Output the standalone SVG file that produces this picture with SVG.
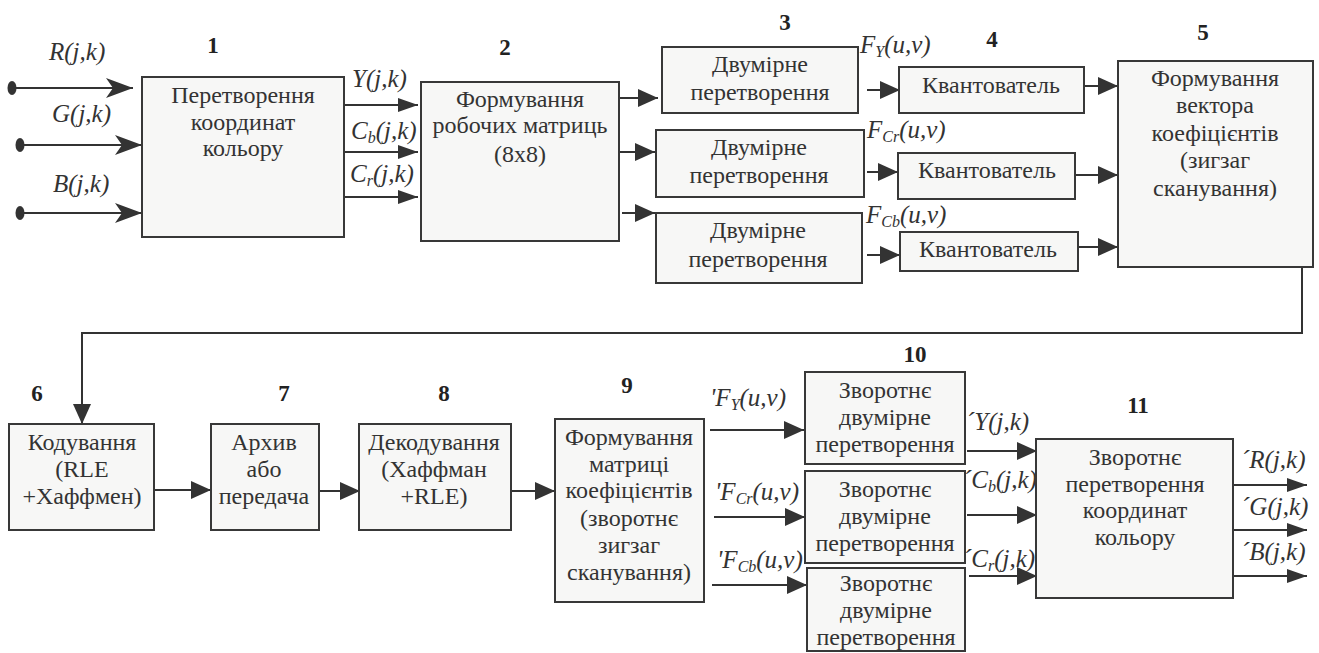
<svg xmlns="http://www.w3.org/2000/svg" width="1319" height="653" viewBox="0 0 1319 653">
<style>
.b{fill:#f7f7f6;stroke:#383838;stroke-width:2}
.t{font-size:24px;fill:#333;text-anchor:middle}
.n{font-size:23px;font-weight:bold;fill:#222;text-anchor:middle}
.l{font-size:25px;font-style:italic;fill:#333}
.s{font-size:16px}
.c{fill:none;stroke:#333;stroke-width:2}
</style>
<defs>
<marker id="a" viewBox="0 0 20 18" refX="20" refY="9" markerWidth="20" markerHeight="18" markerUnits="userSpaceOnUse" orient="auto"><path d="M0,0 L20,9 L0,18 z" fill="#333"/></marker>
<marker id="sa" viewBox="0 0 20 14" refX="20" refY="7" markerWidth="20" markerHeight="14" markerUnits="userSpaceOnUse" orient="auto"><path d="M0,0 L20,7 L0,14 z" fill="#333"/></marker>
<marker id="st" viewBox="0 0 27 20" refX="27" refY="10" markerWidth="27" markerHeight="20" markerUnits="userSpaceOnUse" orient="auto"><path d="M0,0 L27,10 L0,20 L7,10 z" fill="#333"/></marker>
</defs>
<g font-family="Liberation Serif, Tinos, Times New Roman, Times, Noto Serif, DejaVu Serif, FreeSerif, serif">
<g id="connectors">
<ellipse cx="12" cy="88" rx="4.5" ry="7" fill="#333"/>
<ellipse cx="20" cy="145" rx="4.5" ry="7" fill="#333"/>
<ellipse cx="20" cy="213" rx="4.5" ry="7" fill="#333"/>
<path class="c" d="M12,88 H133" marker-end="url(#st)"/>
<path class="c" d="M20,145 H142" marker-end="url(#st)"/>
<path class="c" d="M20,213 H142" marker-end="url(#st)"/>
<path class="c" d="M338,105 H418" marker-end="url(#sa)"/>
<path class="c" d="M338,152 H418" marker-end="url(#sa)"/>
<path class="c" d="M338,197 H418" marker-end="url(#sa)"/>
<path class="c" d="M613,98 H658" marker-end="url(#a)"/>
<path class="c" d="M619,152 H655" marker-end="url(#a)"/>
<path class="c" d="M622,213 H655" marker-end="url(#a)"/>
<path class="c" d="M867,90 H900" marker-end="url(#a)"/>
<path class="c" d="M867,172 H898" marker-end="url(#a)"/>
<path class="c" d="M867,255 H900" marker-end="url(#a)"/>
<path class="c" d="M1082,86 H1118" marker-end="url(#a)"/>
<path class="c" d="M1070,175 H1118" marker-end="url(#a)"/>
<path class="c" d="M1077,247 H1118" marker-end="url(#a)"/>
<path class="c" d="M1302,267 V333 H82 V424" marker-end="url(#a)"/>
<path class="c" d="M152,490 H211" marker-end="url(#a)"/>
<path class="c" d="M319,491 H360" marker-end="url(#a)"/>
<path class="c" d="M511,491 H555" marker-end="url(#a)"/>
<path class="c" d="M710,430 H804" marker-end="url(#a)"/>
<path class="c" d="M714,517 H805" marker-end="url(#a)"/>
<path class="c" d="M712,585 H807" marker-end="url(#a)"/>
<path class="c" d="M967,451 H1037" marker-end="url(#a)"/>
<path class="c" d="M967,515 H1037" marker-end="url(#a)"/>
<path class="c" d="M969,576 H1037" marker-end="url(#a)"/>
<path class="c" d="M1233,485 H1307" marker-end="url(#sa)"/>
<path class="c" d="M1233,530 H1307" marker-end="url(#sa)"/>
<path class="c" d="M1233,576 H1307" marker-end="url(#sa)"/>
</g>

<g id="labels">
<text class="l" x="49" y="60">R(j,k)</text>
<text class="l" x="52" y="122">G(j,k)</text>
<text class="l" x="53" y="192">B(j,k)</text>
<text class="l" x="352" y="87">Y(j,k)</text>
<text class="l" x="351" y="139">C<tspan class="s" dy="4">b</tspan><tspan dy="-4">(j,k)</tspan></text>
<text class="l" x="350" y="182">C<tspan class="s" dy="4">r</tspan><tspan dy="-4">(j,k)</tspan></text>
<text class="l" x="860" y="53">F<tspan class="s" dy="4">Y</tspan><tspan dy="-4">(u,v)</tspan></text>
<text class="l" x="867" y="138">F<tspan class="s" dy="4">Cr</tspan><tspan dy="-4">(u,v)</tspan></text>
<text class="l" x="866" y="223">F<tspan class="s" dy="4">Cb</tspan><tspan dy="-4">(u,v)</tspan></text>
<text class="l" x="710" y="406">'F<tspan class="s" dy="4">Y</tspan><tspan dy="-4">(u,v)</tspan></text>
<text class="l" x="715" y="500">'F<tspan class="s" dy="4">Cr</tspan><tspan dy="-4">(u,v)</tspan></text>
<text class="l" x="717" y="568">'F<tspan class="s" dy="4">Cb</tspan><tspan dy="-4">(u,v)</tspan></text>
<text class="l" x="966" y="430">´Y(j,k)</text>
<text class="l" x="963" y="488">´C<tspan class="s" dy="4">b</tspan><tspan dy="-4">(j,k)</tspan></text>
<text class="l" x="963" y="567">´C<tspan class="s" dy="4">r</tspan><tspan dy="-4">(j,k)</tspan></text>
<text class="l" x="1241" y="468">´R(j,k)</text>
<text class="l" x="1241" y="515">´G(j,k)</text>
<text class="l" x="1241" y="560">´B(j,k)</text>
</g>

<g id="node1">
<rect class="b" x="142" y="77" width="202" height="160"/>
<text class="n" x="213" y="53">1</text>
<text class="t" x="243" y="103">Перетворення</text>
<text class="t" x="243" y="130">координат</text>
<text class="t" x="243" y="156">кольору</text>
</g>
<g id="node2">
<rect class="b" x="421" y="82" width="198" height="159"/>
<text class="n" x="505" y="55">2</text>
<text class="t" x="520" y="107">Формування</text>
<text class="t" x="520" y="133">робочих матриць</text>
<text class="t" x="520" y="162">(8x8)</text>
</g>
<g id="node3a">
<rect class="b" x="662" y="47" width="196" height="66"/>
<text class="n" x="785" y="30">3</text>
<text class="t" x="760" y="72">Двумірне</text>
<text class="t" x="760" y="100">перетворення</text>
</g>
<g id="node3b">
<rect class="b" x="656" y="130" width="208" height="67"/>
<text class="t" x="759" y="155">Двумірне</text>
<text class="t" x="759" y="183">перетворення</text>
</g>
<g id="node3c">
<rect class="b" x="656" y="213" width="206" height="70"/>
<text class="t" x="758" y="238">Двумірне</text>
<text class="t" x="758" y="267">перетворення</text>
</g>
<g id="node4a">
<rect class="b" x="899" y="67" width="185" height="46"/>
<text class="n" x="992" y="47">4</text>
<text class="t" x="991" y="93">Квантователь</text>
</g>
<g id="node4b">
<rect class="b" x="898" y="153" width="177" height="46"/>
<text class="t" x="987" y="178">Квантователь</text>
</g>
<g id="node4c">
<rect class="b" x="900" y="232" width="178" height="39"/>
<text class="t" x="988" y="257">Квантователь</text>
</g>
<g id="node5">
<rect class="b" x="1118" y="61" width="195" height="206"/>
<text class="n" x="1203" y="40">5</text>
<text class="t" x="1215" y="86">Формування</text>
<text class="t" x="1215" y="113">вектора</text>
<text class="t" x="1215" y="141">коефіцієнтів</text>
<text class="t" x="1215" y="168">(зигзаг</text>
<text class="t" x="1215" y="196">сканування)</text>
</g>
<g id="node6">
<rect class="b" x="9" y="424" width="145" height="106"/>
<text class="n" x="37" y="401">6</text>
<text class="t" x="82" y="450">Кодування</text>
<text class="t" x="82" y="477">(RLE</text>
<text class="t" x="82" y="504">+Хаффмен)</text>
</g>
<g id="node7">
<rect class="b" x="211" y="424" width="108" height="106"/>
<text class="n" x="284" y="401">7</text>
<text class="t" x="264" y="450">Архив</text>
<text class="t" x="264" y="477">або</text>
<text class="t" x="264" y="504">передача</text>
</g>
<g id="node8">
<rect class="b" x="359" y="424" width="152" height="106"/>
<text class="n" x="444" y="401">8</text>
<text class="t" x="434" y="450">Декодування</text>
<text class="t" x="434" y="477">(Хаффман</text>
<text class="t" x="434" y="504">+RLE)</text>
</g>
<g id="node9">
<rect class="b" x="555" y="419" width="149" height="183"/>
<text class="n" x="627" y="393">9</text>
<text class="t" x="629" y="445">Формування</text>
<text class="t" x="629" y="472">матриці</text>
<text class="t" x="629" y="498">коефіцієнтів</text>
<text class="t" x="629" y="526">(зворотнє</text>
<text class="t" x="629" y="553">зигзаг</text>
<text class="t" x="629" y="580">сканування)</text>
</g>
<g id="node10a">
<rect class="b" x="805" y="372" width="160" height="92"/>
<text class="n" x="915" y="362">10</text>
<text class="t" x="885" y="398">Зворотнє</text>
<text class="t" x="885" y="425">двумірне</text>
<text class="t" x="885" y="452">перетворення</text>
</g>
<g id="node10b">
<rect class="b" x="805" y="471" width="160" height="92"/>
<text class="t" x="885" y="497">Зворотнє</text>
<text class="t" x="885" y="524">двумірне</text>
<text class="t" x="885" y="551">перетворення</text>
</g>
<g id="node10c">
<rect class="b" x="807" y="568" width="158" height="83"/>
<text class="t" x="886" y="591">Зворотнє</text>
<text class="t" x="886" y="618">двумірне</text>
<text class="t" x="886" y="645">перетворення</text>
</g>
<g id="node11">
<rect class="b" x="1036" y="439" width="197" height="159"/>
<text class="n" x="1138" y="413">11</text>
<text class="t" x="1135" y="465">Зворотнє</text>
<text class="t" x="1135" y="492">перетворення</text>
<text class="t" x="1135" y="518">координат</text>
<text class="t" x="1135" y="545">кольору</text>
</g>
</g>
</svg>
